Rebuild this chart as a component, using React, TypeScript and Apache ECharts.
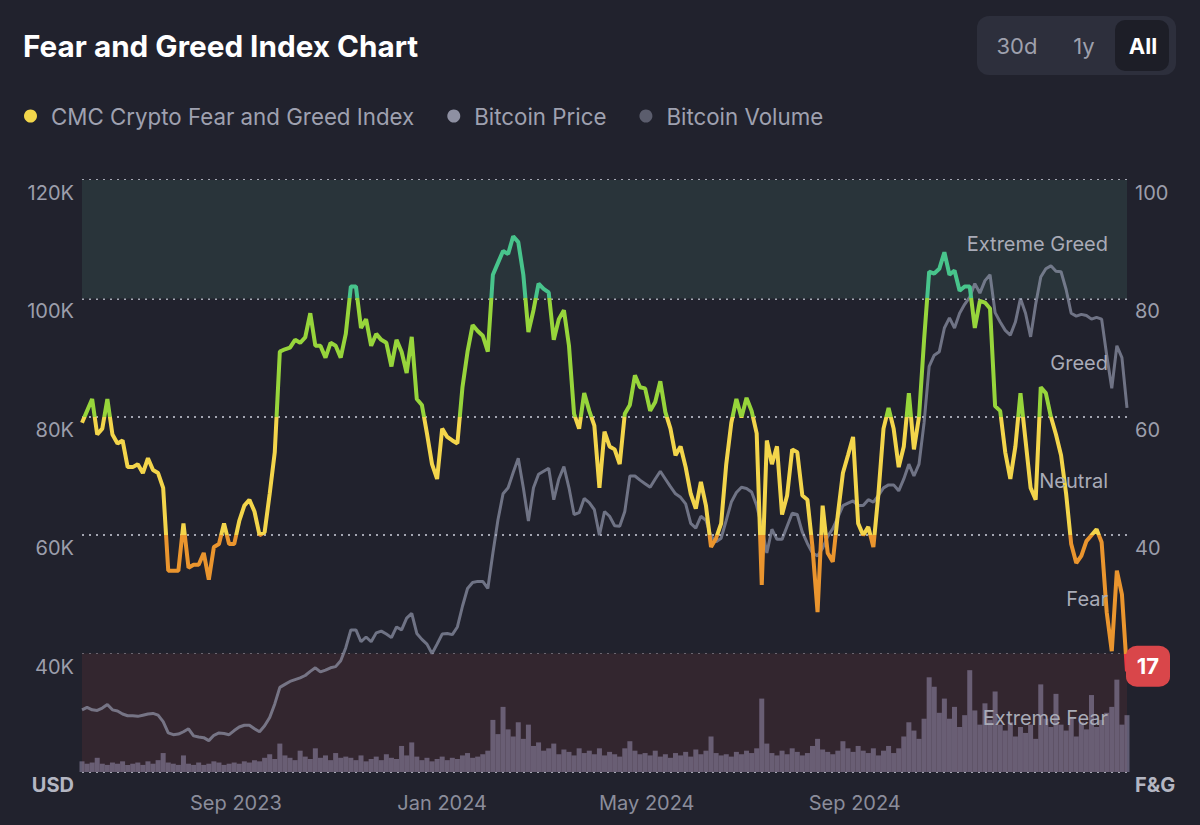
import React, { useEffect, useRef } from 'react';
import * as echarts from 'echarts';

// ---- data ----
const START_DATE = '2023-06-02';
const STEP_DAYS = 3;
const AXIS_END_DAY = 618;

// CMC Crypto Fear and Greed Index (0-100), one value every 3 days
const fearGreed = [
  59, 61, 63, 57, 58, 63, 57, 55.5, 56, 51.5,
  51.5, 52, 50.5, 53, 51, 50.5, 48, 34, 34, 34,
  42, 34.5, 35, 35, 37, 32.5, 38, 38.5, 42, 38.5,
  38.5, 42.4, 45, 46, 44, 40, 40.5, 47, 54, 71,
  71.4, 71.7, 73, 72.5, 73.4, 77.5, 72, 72, 70, 72.5,
  72, 70, 74,
  82, 82, 75, 76.5, 72, 74, 73, 72.5, 68.5, 73,
  71, 67.4, 73.5, 63, 62, 57.2, 52, 49.5, 58, 56.6,
  56, 55.5, 65, 71, 75.5, 74.5, 73.7, 71, 84, 86,
  88, 87.5, 90.5, 89.5, 84, 74.3, 78, 82.5, 81.6, 81,
  73, 76.5, 78, 72, 60.5, 58, 64, 61, 58.5, 48,
  57.5, 55, 54.5, 52, 60.5, 62, 67, 65, 64.8, 61,
  62.5, 66, 60.8, 58, 53.5, 55, 51.5, 47, 44.5, 49,
  45, 38, 39.5, 42, 52, 59, 63, 59.9, 63.2, 61,
  57.2, 31.6, 56, 52, 55, 43.5, 46.7, 54.5, 54, 46.7,
  46, 38, 27, 45, 37, 35.5, 43.5, 50.5, 53.5, 56.6, 42, 40,
  41.4, 38, 47, 58, 61.5, 58, 51.5, 55, 64, 54.5,
  60, 73, 84.5, 84.2, 85, 87.8, 84, 84.7, 81.3, 82,
  82, 75, 79.6, 79.3, 78.3, 61.8, 61, 54, 49.5, 55,
  64, 56, 48, 46, 65, 64, 60, 57, 53.5, 47,
  38.5, 35.3, 36.5, 39, 40, 41, 38.8, 27, 20.4, 34, 30, 17,
];

// Bitcoin price, thousands of USD
const btcPriceK = [
  30.5, 30.9, 30.5, 30.4, 30.8, 31.4, 30.5, 30.3, 29.8, 29.5,
  29.5, 29.4, 29.6, 29.8, 29.9, 29.6, 28.5, 26.6, 26.3, 26.4,
  26.8, 27.3, 26.1, 25.9, 25.8, 25.3, 26.2, 26.6, 26.5, 26.3,
  27.0, 27.6, 27.9, 27.9, 27.3, 26.8, 27.8, 29.2, 31.5, 34.3,
  34.8, 35.3, 35.6, 35.9, 36.3, 37.0, 37.6, 36.9, 37.2, 37.6,
  37.8, 38.8, 41,
  44, 44, 42, 42.8, 42, 43.5, 43.8, 43.3, 42.7, 44.5,
  44, 46, 46.8, 43.4, 42.4, 41.6, 40, 41.6, 43.3, 43.4,
  43.2, 44.5, 48, 51, 52, 52.2, 52.2, 51, 57, 62.6,
  67, 68, 70.6, 73, 68, 62.4, 68, 70.3, 70.8, 71.3,
  66, 69.5, 71.6, 68, 63.5, 63.8, 66.2, 65.5, 64.3, 60,
  64, 63.2, 61.6, 61.5, 64, 70, 70, 69.3, 68.7, 68.1,
  69.5, 70.8, 69.5, 68.2, 67, 66.4, 65.3, 62, 61.2, 63.2,
  62.5, 59.8, 58.9, 59.5, 62.5, 65.6, 67.2, 68.1, 67.9, 67.3,
  65, 61.4, 57, 61, 59.3, 59.3, 61.5, 63.7, 63.5, 60.5,
  58.6, 57, 56.5, 57.8, 59.8, 61.1, 63, 65, 65.4, 65.8, 65, 65,
  66, 65.6, 66.7, 68, 68.5, 68.5, 67.5, 69.5, 72, 70,
  72, 79, 88.5, 90.4, 91, 95, 96.7, 95, 97.5, 99,
  100.2, 102.5, 100.9, 103, 104, 97.6, 96, 94.6, 93.8, 96,
  100, 97.5, 93.5, 99, 103.6, 105, 105.5, 104.6, 104.5, 101.5,
  97.5, 97, 97.3, 97.1, 96.5, 96.8, 96.5, 90.4, 84.8, 92, 90, 81.5,
];

// Bitcoin volume, billions of USD
const btcVolumeB = [
  9, 7, 8, 12, 7, 6, 8, 7, 9, 6,
  7, 8, 6, 9, 7, 10, 16, 8, 7, 6,
  14, 7, 6, 8, 6, 7, 9, 8, 6, 7,
  8, 7, 9, 8, 10, 9, 12, 15, 11, 24,
  14, 12, 10, 18, 13, 11, 20, 12, 14, 10, 16, 12, 13,
  12, 10, 14, 9, 11, 13, 10, 15, 12, 11,
  22, 14, 25, 13, 10, 12, 9, 11, 13, 10,
  12, 11, 14, 16, 12, 13, 15, 18, 44, 32,
  55, 36, 30, 42, 28, 40, 22, 25, 18, 20,
  24, 15, 19, 17, 14, 20, 16, 18, 15, 20,
  14, 17, 15, 13, 20, 26, 18, 15, 16, 14,
  18, 13, 15, 12, 16, 14, 17, 13, 19, 15,
  18, 30, 16, 14, 15, 13, 17, 15, 18, 16,
  20, 62, 24, 16, 14, 18, 15, 20, 17, 14,
  16, 22, 28, 19, 17, 15, 18, 26, 20, 17, 22, 18,
  16, 20, 14, 18, 22, 16, 20, 30, 42, 35,
  28, 45, 80, 72, 50, 62, 45, 55, 38, 48,
  86, 52, 40, 58, 44, 68, 40, 35, 42, 30,
  38, 33, 40, 28, 74, 45, 38, 66, 40, 35,
  45, 30, 42, 36, 65, 38, 44, 50, 55, 78, 40, 48,
];

const xTickDates = ['2023-09-01', '2024-01-01', '2024-05-01', '2024-09-01'];
const monthNames = ['Jan', 'Feb', 'Mar', 'Apr', 'May', 'Jun', 'Jul', 'Aug', 'Sep', 'Oct', 'Nov', 'Dec'];
const zoneNames = ['Extreme Fear', 'Fear', 'Neutral', 'Greed', 'Extreme Greed'];
const zoneBounds = [0, 20, 40, 60, 80, 100];
const zoneLineColors = ['#ea3943', '#ea952e', '#f3d54b', '#97d53b', '#48c48c'];
const rangeButtons = ['30d', '1y', 'All'];

const legendNames = ['CMC Crypto Fear and Greed Index', 'Bitcoin Price', 'Bitcoin Volume'];

const DAY = 86400000;
const toMs = (s: string) => Date.parse(s + 'T00:00:00Z');

export default function App() {
  const ref = useRef<HTMLDivElement>(null);

  useEffect(() => {
    document.body.style.margin = '0';
    document.body.style.background = '#21222d';
    if (!ref.current) return;
    const chart = echarts.init(ref.current, undefined, { renderer: 'svg' });

    const startMs = toMs(START_DATE);
    const dates = fearGreed.map((_, i) => startMs + i * STEP_DAYS * DAY);
    const fgData = dates.map((d, i) => [d, fearGreed[i]]);
    const priceData = dates.map((d, i) => [d, btcPriceK[i] * 1000]);
    const volData = dates.map((d, i) => [d, btcVolumeB[i]]);
    const last = fgData[fgData.length - 1];

    const zoneLabelAreas = zoneNames.map((name, i) => [
      { yAxis: zoneBounds[i], name },
      { yAxis: zoneBounds[i + 1] },
    ]);

    const option: any = {
      animation: false,
      backgroundColor: '#21222d',
      textStyle: { fontFamily: 'Inter, "Noto Sans", sans-serif' },
      title: {
        text: 'Fear and Greed Index Chart',
        left: 18,
        top: 26,
        textStyle: { color: '#ffffff', fontSize: 29.7, fontWeight: 700, fontFamily: 'Inter' },
      },
      legend: {
        left: 19,
        top: 100,
        icon: 'circle',
        itemWidth: 13,
        itemHeight: 13,
        itemGap: 33,
        selectedMode: false,
        textStyle: { color: '#9fa1b0', fontSize: 22.3, padding: [0, 0, 0, 9], fontFamily: 'Inter' },
        data: [
          { name: legendNames[0], itemStyle: { color: '#f2d64b' } },
          { name: legendNames[1], itemStyle: { color: '#8e90a2' } },
          { name: legendNames[2], itemStyle: { color: '#5b5d6d' } },
        ],
      },
      grid: { left: 82, right: 73, top: 180, bottom: 53 },
      xAxis: {
        type: 'value',
        min: startMs,
        max: startMs + AXIS_END_DAY * DAY,
        axisLine: { show: false },
        axisTick: { show: false },
        splitLine: { show: false },
        axisLabel: {
          customValues: xTickDates.map(toMs),
          formatter: (v: number) => {
            const d = new Date(v);
            return monthNames[d.getUTCMonth()] + ' ' + d.getUTCFullYear();
          },
          color: '#8b8d9b',
          fontSize: 20,
          margin: 21,
        },
      },
      yAxis: [
        {
          type: 'value',
          min: 20000,
          max: 120000,
          interval: 20000,
          position: 'left',
          axisLine: { show: false },
          axisTick: { show: false },
          splitLine: { show: true, lineStyle: { color: '#a3a5b1', type: [2, 5], width: 2 } },
          axisLabel: {
            margin: 8,
            verticalAlign: 'top',
            padding: [3, 0, 0, 0],
            color: '#9c9eab',
            fontSize: 20,
            formatter: (v: number) => (v === 20000 ? '{b|USD}' : v / 1000 + 'K'),
            rich: { b: { fontWeight: 700, fontSize: 20, color: '#b4b6c2' } },
          },
        },
        {
          type: 'value',
          min: 0,
          max: 100,
          interval: 20,
          position: 'right',
          axisLine: { show: false },
          axisTick: { show: false },
          splitLine: { show: false },
          axisLabel: {
            margin: 8,
            verticalAlign: 'top',
            padding: [3, 0, 0, 0],
            color: '#9c9eab',
            fontSize: 20,
            formatter: (v: number) => (v === 0 ? '{b|F&G}' : v === 20 ? '' : String(v)),
            rich: { b: { fontWeight: 700, fontSize: 20, color: '#b4b6c2' } },
          },
        },
        { type: 'value', min: 0, max: 500, show: false },
      ],
      visualMap: {
        type: 'piecewise',
        show: false,
        seriesIndex: 3,
        dimension: 1,
        pieces: zoneLineColors.map((color, i) =>
          i === zoneLineColors.length - 1
            ? { gte: zoneBounds[i], lte: zoneBounds[i + 1], color }
            : { gte: zoneBounds[i], lt: zoneBounds[i + 1], color }
        ),
      },
      series: [
        {
          name: 'zones',
          type: 'line',
          yAxisIndex: 1,
          data: [],
          markArea: {
            silent: true,
            z: 1,
            data: [
              [{ yAxis: zoneBounds[4], itemStyle: { color: '#29343a' } }, { yAxis: zoneBounds[5] }],
              [{ yAxis: zoneBounds[0], itemStyle: { color: '#33262f' } }, { yAxis: zoneBounds[1] }],
            ],
          },
        },
        {
          name: legendNames[2],
          type: 'bar',
          yAxisIndex: 2,
          data: volData,
          barWidth: 5,
          z: 2,
          itemStyle: { color: 'rgba(160,150,185,0.5)' },
        },
        {
          name: legendNames[1],
          type: 'line',
          yAxisIndex: 0,
          data: priceData,
          showSymbol: false,
          z: 3,
          lineStyle: { color: 'rgba(160,164,188,0.62)', width: 3 },
          itemStyle: { color: '#8e90a2' },
        },
        {
          name: legendNames[0],
          type: 'line',
          yAxisIndex: 1,
          data: fgData,
          showSymbol: false,
          z: 4,
          lineStyle: { width: 4 },
          itemStyle: { color: '#f2d64b' },
          markPoint: {
            z: 12,
            symbol: 'roundRect',
            symbolSize: [44, 41],
            symbolOffset: [21, -5],
            itemStyle: { color: '#d9464a' },
            label: { show: true, color: '#ffffff', fontSize: 22, fontWeight: 700, fontFamily: 'Inter' },
            data: [{ coord: last, value: last[1] }],
          },
        },
        {
          name: 'zoneLabels',
          type: 'line',
          yAxisIndex: 1,
          data: [],
          markArea: {
            silent: true,
            z: 10,
            itemStyle: { color: 'rgba(0,0,0,0)' },
            label: {
              show: true,
              position: 'insideRight',
              distance: 19,
              offset: [0, 5],
              color: '#a9abb7',
              fontSize: 20,
              fontFamily: 'Inter',
            },
            data: zoneLabelAreas,
          },
        },
      ],
      graphic: [
        {
          type: 'group',
          left: 977,
          top: 16,
          children: [
            { type: 'rect', shape: { x: 0, y: 0, width: 199, height: 59, r: 12 }, style: { fill: '#2d2f3c' } },
            { type: 'rect', shape: { x: 138, y: 4, width: 54, height: 51, r: 10 }, style: { fill: '#1d1e27' } },
            {
              type: 'text', x: 40, y: 30,
              style: { text: rangeButtons[0], fill: '#9ea0ad', fontSize: 22, fontFamily: 'Inter', align: 'center', verticalAlign: 'middle' },
            },
            {
              type: 'text', x: 107, y: 30,
              style: { text: rangeButtons[1], fill: '#9ea0ad', fontSize: 22, fontFamily: 'Inter', align: 'center', verticalAlign: 'middle' },
            },
            {
              type: 'text', x: 166, y: 30,
              style: { text: rangeButtons[2], fill: '#ffffff', fontSize: 22, fontWeight: 700, fontFamily: 'Inter', align: 'center', verticalAlign: 'middle' },
            },
          ],
        },
      ],
    };

    chart.setOption(option);
    return () => chart.dispose();
  }, []);

  return <div ref={ref} style={{ width: 1200, height: 825 }} />;
}
